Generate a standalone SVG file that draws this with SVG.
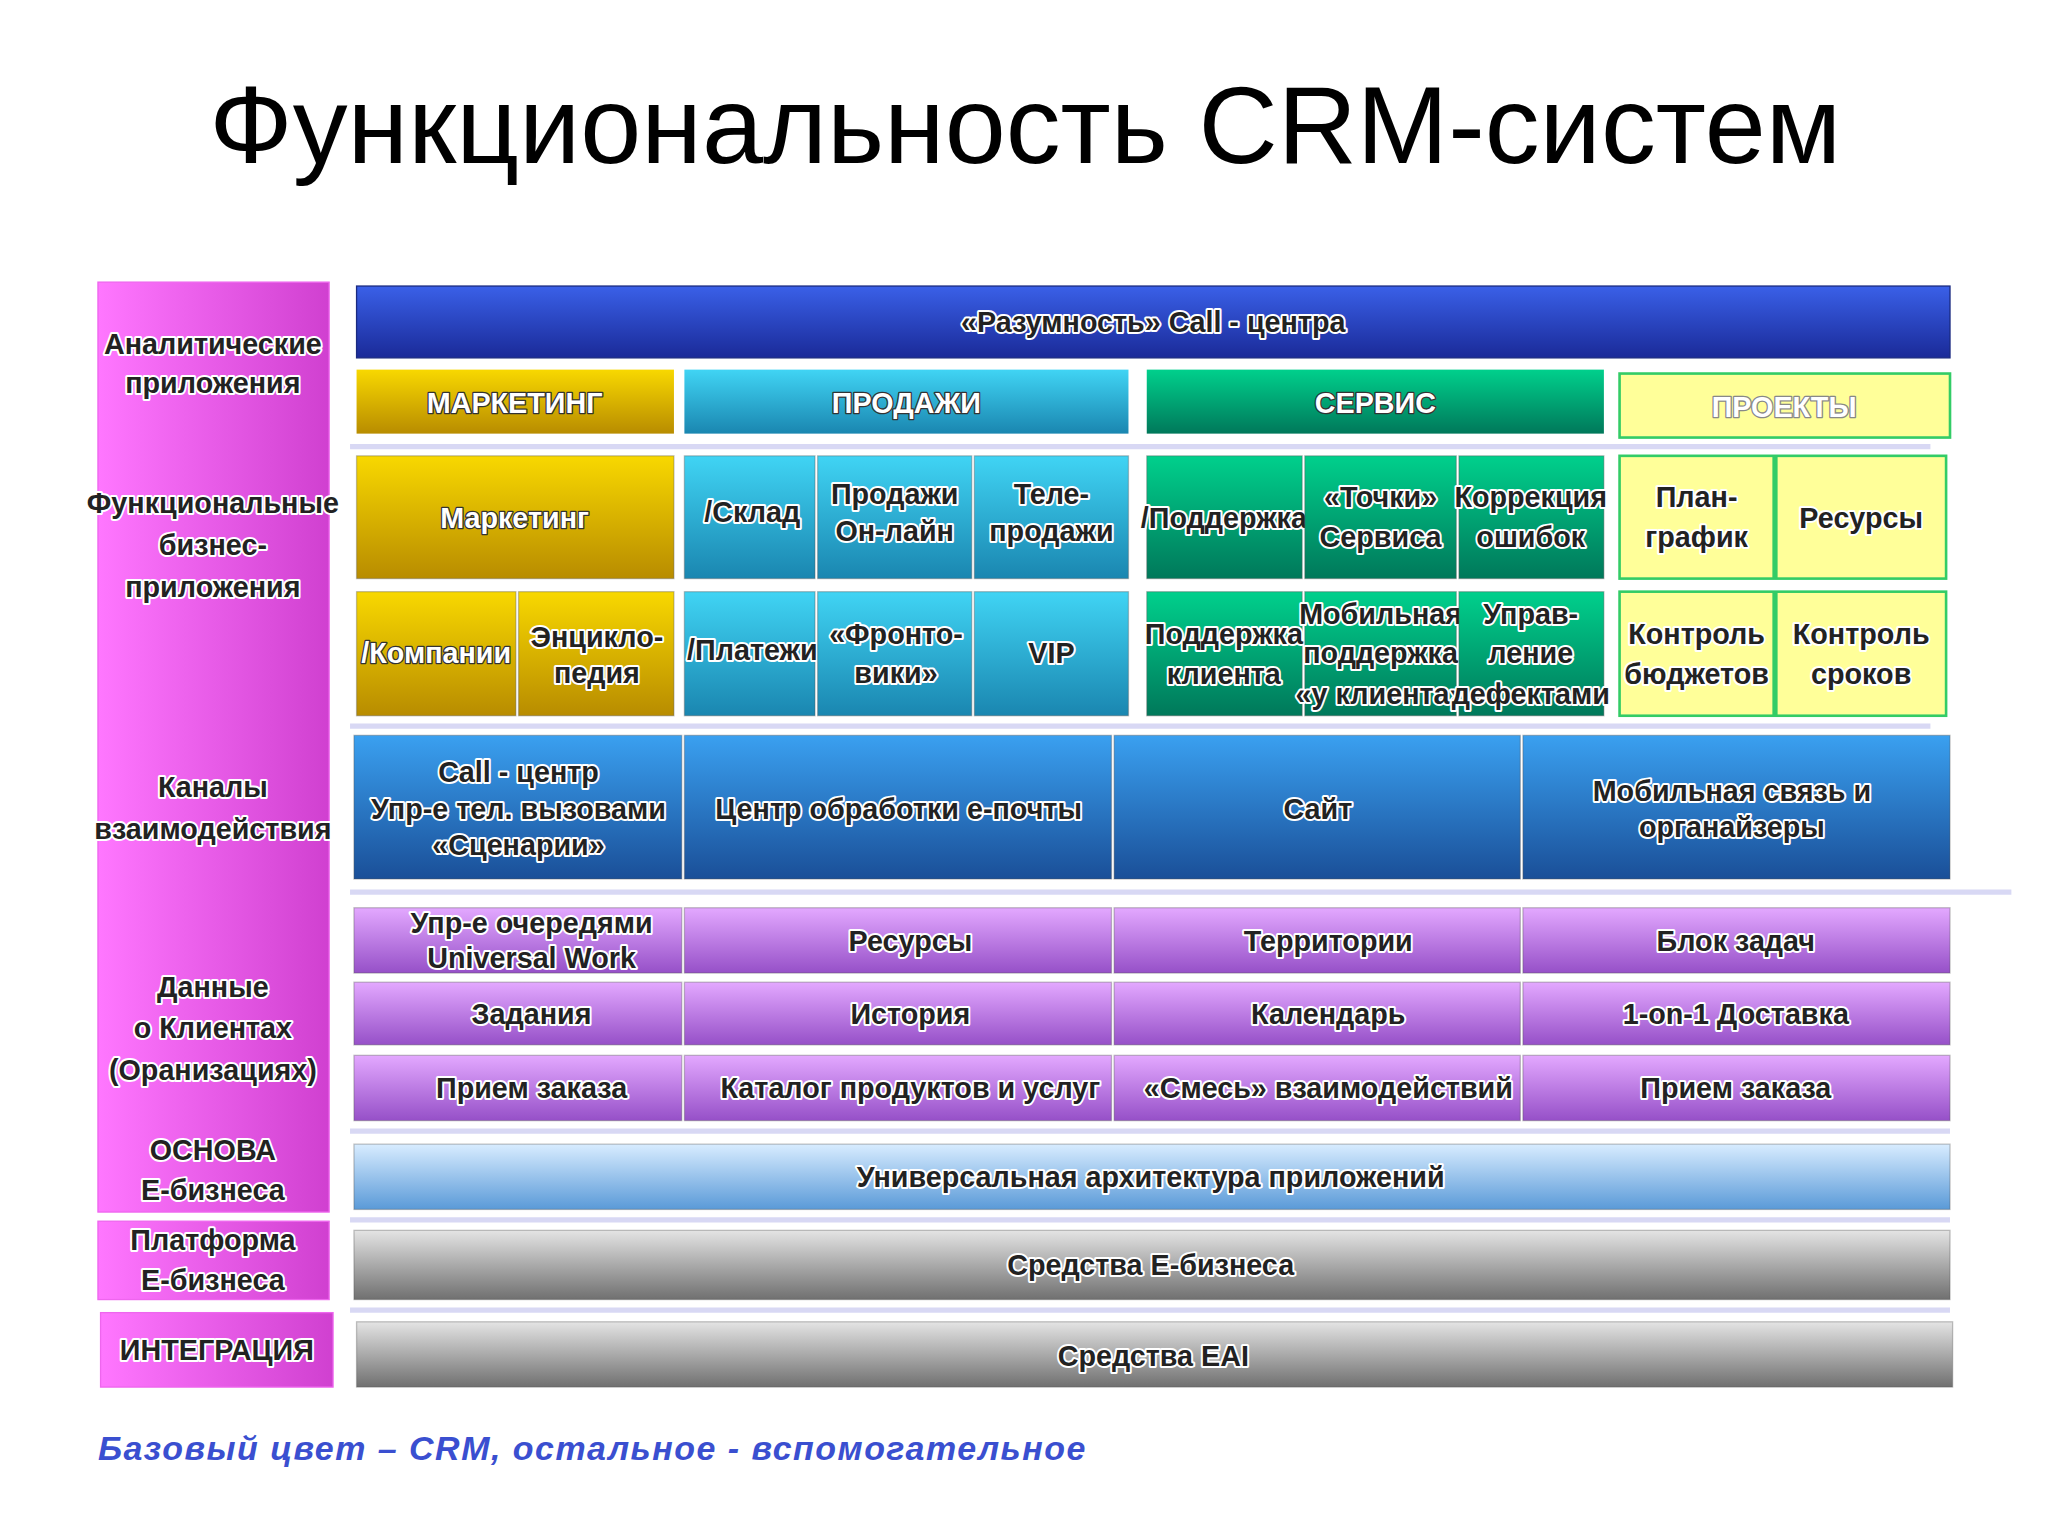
<svg xmlns="http://www.w3.org/2000/svg" width="2048" height="1536" viewBox="0 0 2048 1536">
<defs>
<linearGradient id="gold" x1="0" y1="0" x2="0" y2="1"><stop offset="0" stop-color="#f8d800"/><stop offset="1" stop-color="#b88c00"/></linearGradient>
<linearGradient id="cyan" x1="0" y1="0" x2="0" y2="1"><stop offset="0" stop-color="#40d4f4"/><stop offset="1" stop-color="#1a86b0"/></linearGradient>
<linearGradient id="teal" x1="0" y1="0" x2="0" y2="1"><stop offset="0" stop-color="#00d08c"/><stop offset="1" stop-color="#00785a"/></linearGradient>
<linearGradient id="chan" x1="0" y1="0" x2="0" y2="1"><stop offset="0" stop-color="#3aa0f0"/><stop offset="1" stop-color="#1a4f98"/></linearGradient>
<linearGradient id="purp" x1="0" y1="0" x2="0" y2="1"><stop offset="0" stop-color="#e3a8ff"/><stop offset="1" stop-color="#9650c8"/></linearGradient>
<linearGradient id="lblue" x1="0" y1="0" x2="0" y2="1"><stop offset="0" stop-color="#d8ecff"/><stop offset="1" stop-color="#5a9ad8"/></linearGradient>
<linearGradient id="gray" x1="0" y1="0" x2="0" y2="1"><stop offset="0" stop-color="#e4e4e4"/><stop offset="1" stop-color="#707070"/></linearGradient>
<linearGradient id="topb" x1="0" y1="0" x2="0" y2="1"><stop offset="0" stop-color="#3a60e8"/><stop offset="1" stop-color="#1a2a98"/></linearGradient>
<linearGradient id="pink" x1="0" y1="0" x2="1" y2="0"><stop offset="0" stop-color="#ff77ff"/><stop offset="1" stop-color="#d040d0"/></linearGradient>
<style>
text{font-family:"Liberation Sans",Arial,sans-serif;font-weight:bold;font-size:22px;text-anchor:middle}
.c{fill:#222;stroke:#fff;stroke-width:3;paint-order:stroke;stroke-linejoin:round}
.w{fill:#fff;stroke:#333;stroke-width:2;paint-order:stroke;stroke-linejoin:round}
.sep{stroke:#d8d8f4;stroke-width:4}
.cell{stroke:#555;stroke-opacity:.35;stroke-width:1}
</style>
</defs>
<rect width="2048" height="1536" fill="#fff"/>
<g transform="scale(1.3061)">
<text x="785" y="125" style="font-weight:normal;font-size:84px;fill:#000">Функциональность CRM-систем</text>
<g id="left">
<rect x="75" y="216" width="177" height="712" fill="url(#pink)" stroke="#ee66ee"/>
<rect x="75" y="935" width="177" height="60" fill="url(#pink)" stroke="#ee66ee"/>
<rect x="77" y="1005" width="178" height="57" fill="url(#pink)" stroke="#ee66ee"/>
<text class="c" x="163" y="271">Аналитические</text><text class="c" x="163" y="301">приложения</text>
<text class="c" x="163" y="393">Функциональные</text><text class="c" x="163" y="425">бизнес-</text><text class="c" x="163" y="457">приложения</text>
<text class="c" x="163" y="610">Каналы</text><text class="c" x="163" y="642">взаимодействия</text>
<text class="c" x="163" y="763">Данные</text><text class="c" x="163" y="795">о Клиентах</text><text class="c" x="163" y="827">(Оранизациях)</text>
<text class="c" x="163" y="888">ОСНОВА</text><text class="c" x="163" y="919">Е-бизнеса</text>
<text class="c" x="163" y="957">Платформа</text><text class="c" x="163" y="988">Е-бизнеса</text>
<text class="c" x="166" y="1041">ИНТЕГРАЦИЯ</text>
</g>
<g id="separators">
<line class="sep" x1="268" y1="342" x2="1478" y2="342"/>
<line class="sep" x1="268" y1="556" x2="1478" y2="556"/>
<line class="sep" x1="268" y1="683" x2="1540" y2="683"/>
<line class="sep" x1="268" y1="866" x2="1493" y2="866"/>
<line class="sep" x1="268" y1="934" x2="1493" y2="934"/>
<line class="sep" x1="268" y1="1003" x2="1493" y2="1003"/>
</g>
<g id="top"><rect x="273" y="219" width="1220" height="55" fill="url(#topb)" stroke="#1a2a80"/><text class="c" x="883" y="254">«Разумность» Call - центра</text></g>
<g id="headers">
<rect x="273" y="283" width="243" height="49" fill="url(#gold)"/><text class="w" x="394" y="316">МАРКЕТИНГ</text>
<rect x="524" y="283" width="340" height="49" fill="url(#cyan)"/><text class="w" x="694" y="316">ПРОДАЖИ</text>
<rect x="878" y="283" width="350" height="49" fill="url(#teal)"/><text class="w" x="1053" y="316">СЕРВИС</text>
<rect x="1240" y="286" width="253" height="49" fill="#ffff99" stroke="#33cc66" stroke-width="2"/><text class="w" x="1366" y="319" style="stroke:#888">ПРОЕКТЫ</text>
</g>
<g id="row1">
<rect class="cell" x="273" y="349" width="243" height="94" fill="url(#gold)"/><text class="w" x="394" y="404">Маркетинг</text>
<rect class="cell" x="524" y="349" width="100" height="94" fill="url(#cyan)"/><text class="c" x="576" y="400">/Склад</text>
<rect class="cell" x="626" y="349" width="118" height="94" fill="url(#cyan)"/><text class="c" x="685" y="386">Продажи</text><text class="c" x="685" y="414">Он-лайн</text>
<rect class="cell" x="746" y="349" width="118" height="94" fill="url(#cyan)"/><text class="c" x="805" y="386">Теле-</text><text class="c" x="805" y="414">продажи</text>
<rect class="cell" x="878" y="349" width="119" height="94" fill="url(#teal)"/><text class="c" x="937" y="404">/Поддержка</text>
<rect class="cell" x="999" y="349" width="116" height="94" fill="url(#teal)"/><text class="c" x="1057" y="388">«Точки»</text><text class="c" x="1057" y="419">Сервиса</text>
<rect class="cell" x="1117" y="349" width="111" height="94" fill="url(#teal)"/><text class="c" x="1172" y="388">Коррекция</text><text class="c" x="1172" y="419">ошибок</text>
<rect x="1240" y="349" width="118" height="94" fill="#ffff99" stroke="#33cc66" stroke-width="2"/><text class="c" x="1299" y="388">План-</text><text class="c" x="1299" y="419">график</text>
<rect x="1360" y="349" width="130" height="94" fill="#ffff99" stroke="#33cc66" stroke-width="2"/><text class="c" x="1425" y="404">Ресурсы</text>
</g>
<g id="row2">
<rect class="cell" x="273" y="453" width="122" height="95" fill="url(#gold)"/><text class="w" x="334" y="508">/Компании</text>
<rect class="cell" x="397" y="453" width="119" height="95" fill="url(#gold)"/><text class="c" x="457" y="495">Энцикло-</text><text class="c" x="457" y="523">педия</text>
<rect class="cell" x="524" y="453" width="100" height="95" fill="url(#cyan)"/><text class="c" x="576" y="505">/Платежи</text>
<rect class="cell" x="626" y="453" width="118" height="95" fill="url(#cyan)"/><text class="c" x="686" y="493">«Фронто-</text><text class="c" x="686" y="523">вики»</text>
<rect class="cell" x="746" y="453" width="118" height="95" fill="url(#cyan)"/><text class="c" x="805" y="508">VIP</text>
<rect class="cell" x="878" y="453" width="119" height="95" fill="url(#teal)"/><text class="c" x="937" y="493">Поддержка</text><text class="c" x="937" y="524">клиента</text>
<rect class="cell" x="999" y="453" width="116" height="95" fill="url(#teal)"/><text class="c" x="1057" y="478">Мобильная</text><text class="c" x="1057" y="508">поддержка</text><text class="c" x="1057" y="539">«у клиента»</text>
<rect class="cell" x="1117" y="453" width="111" height="95" fill="url(#teal)"/><text class="c" x="1172" y="478">Управ-</text><text class="c" x="1172" y="508">ление</text><text class="c" x="1172" y="539">дефектами</text>
<rect x="1240" y="453" width="118" height="95" fill="#ffff99" stroke="#33cc66" stroke-width="2"/><text class="c" x="1299" y="493">Контроль</text><text class="c" x="1299" y="524">бюджетов</text>
<rect x="1360" y="453" width="130" height="95" fill="#ffff99" stroke="#33cc66" stroke-width="2"/><text class="c" x="1425" y="493">Контроль</text><text class="c" x="1425" y="524">сроков</text>
</g>
<g id="channels">
<rect class="cell" x="271" y="563" width="251" height="110" fill="url(#chan)"/><text class="c" x="397" y="599">Call - центр</text><text class="c" x="397" y="627">Упр-е тел. вызовами</text><text class="c" x="397" y="655">«Сценарии»</text>
<rect class="cell" x="524" y="563" width="327" height="110" fill="url(#chan)"/><text class="c" x="688" y="627">Центр обработки е-почты</text>
<rect class="cell" x="853" y="563" width="311" height="110" fill="url(#chan)"/><text class="c" x="1009" y="627">Сайт</text>
<rect class="cell" x="1166" y="563" width="327" height="110" fill="url(#chan)"/><text class="c" x="1326" y="613">Мобильная связь и</text><text class="c" x="1326" y="641">органайзеры</text>
</g>
<g id="data">
<rect class="cell" x="271" y="695" width="251" height="50" fill="url(#purp)"/><text class="c" x="407" y="714">Упр-е очередями</text><text class="c" x="407" y="741">Universal Work</text>
<rect class="cell" x="524" y="695" width="327" height="50" fill="url(#purp)"/><text class="c" x="697" y="728">Ресурсы</text>
<rect class="cell" x="853" y="695" width="311" height="50" fill="url(#purp)"/><text class="c" x="1017" y="728">Территории</text>
<rect class="cell" x="1166" y="695" width="327" height="50" fill="url(#purp)"/><text class="c" x="1329" y="728">Блок задач</text>
<rect class="cell" x="271" y="752" width="251" height="48" fill="url(#purp)"/><text class="c" x="407" y="784">Задания</text>
<rect class="cell" x="524" y="752" width="327" height="48" fill="url(#purp)"/><text class="c" x="697" y="784">История</text>
<rect class="cell" x="853" y="752" width="311" height="48" fill="url(#purp)"/><text class="c" x="1017" y="784">Календарь</text>
<rect class="cell" x="1166" y="752" width="327" height="48" fill="url(#purp)"/><text class="c" x="1329" y="784">1-on-1 Доставка</text>
<rect class="cell" x="271" y="808" width="251" height="50" fill="url(#purp)"/><text class="c" x="407" y="841">Прием заказа</text>
<rect class="cell" x="524" y="808" width="327" height="50" fill="url(#purp)"/><text class="c" x="697" y="841">Каталог продуктов и услуг</text>
<rect class="cell" x="853" y="808" width="311" height="50" fill="url(#purp)"/><text class="c" x="1017" y="841">«Смесь» взаимодействий</text>
<rect class="cell" x="1166" y="808" width="327" height="50" fill="url(#purp)"/><text class="c" x="1329" y="841">Прием заказа</text>
</g>
<g id="base">
<rect class="cell" x="271" y="876" width="1222" height="50" fill="url(#lblue)"/><text class="c" x="881" y="909">Универсальная архитектура приложений</text>
<rect class="cell" x="271" y="942" width="1222" height="53" fill="url(#gray)"/><text class="c" x="881" y="976">Средства Е-бизнеса</text>
<rect class="cell" x="273" y="1012" width="1222" height="50" fill="url(#gray)"/><text class="c" x="883" y="1046">Средства EAI</text>
</g>
<text x="75" y="1118" style="text-anchor:start;font-style:italic;font-size:26px;fill:#3a4fd0" textLength="756">Базовый цвет – CRM, остальное - вспомогательное</text>
</g>
</svg>
